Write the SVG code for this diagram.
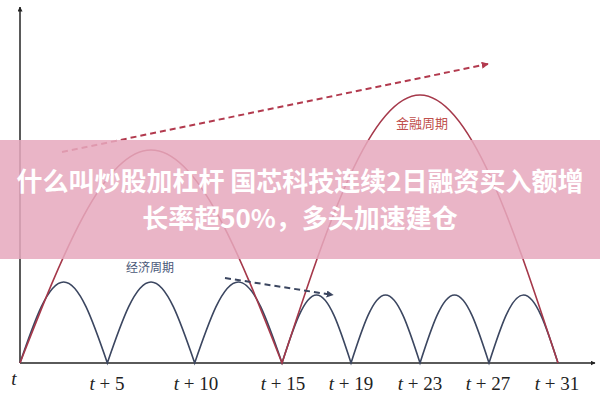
<svg xmlns="http://www.w3.org/2000/svg" width="600" height="400" viewBox="0 0 600 400">
<defs>
<style>
.axis{stroke:#5a5a5a;stroke-width:2;fill:none}
.blue{stroke:#3b4660;stroke-width:1.6;fill:none}
.red{stroke:#a5384a;stroke-width:1.6;fill:none}
.lbl{font-family:"Liberation Serif","DejaVu Serif",serif;font-size:19px;fill:#222;text-anchor:middle}
.lbl tspan.v{font-style:italic}
.ttl{font-family:"Noto Sans CJK SC","Noto Sans",sans-serif;font-weight:bold;font-size:26px;fill:#ffffff;text-anchor:middle}
</style>
<marker id="ahAxis" viewBox="0 0 10 10" refX="9" refY="5" markerWidth="5" markerHeight="5" orient="auto" markerUnits="userSpaceOnUse"><path d="M0,0 L10,5 L0,10 z" fill="#222"/></marker>
<marker id="ahRed" viewBox="0 0 10 10" refX="9" refY="5" markerWidth="7" markerHeight="7" orient="auto" markerUnits="userSpaceOnUse"><path d="M0,0 L10,5 L0,10 z" fill="#b23a4e"/></marker>
<marker id="ahBlue" viewBox="0 0 10 10" refX="9" refY="5" markerWidth="7" markerHeight="7" orient="auto" markerUnits="userSpaceOnUse"><path d="M0,0 L10,5 L0,10 z" fill="#3b4660"/></marker>
</defs>
<rect width="600" height="400" fill="#ffffff"/>
<g id="axes">
<line class="axis" x1="20" y1="363" x2="20" y2="7" marker-end="url(#ahAxis)"/>
<line class="axis" x1="20" y1="363" x2="595" y2="363" marker-end="url(#ahAxis)"/>
</g>
<g id="economic-cycle">
<path class="blue" d="M20,363 c14.24,-41.5 27.87,-81 43.67,-81 c15.8,0 29.43,39.5 43.67,81 c14.24,-41.5 27.87,-81 43.67,-81 c15.8,0 29.43,39.5 43.67,81 c14.24,-41.5 27.87,-81 43.67,-81 c15.8,0 29.43,39.5 43.67,81 c11.25,-34.84 22.01,-68 34.5,-68 c12.49,0 23.25,33.16 34.5,68 c11.25,-34.84 22.01,-68 34.5,-68 c12.49,0 23.25,33.16 34.5,68 c11.25,-34.84 22.01,-68 34.5,-68 c12.49,0 23.25,33.16 34.5,68 c11.25,-34.84 22.01,-68 34.5,-68 c12.49,0 23.25,33.16 34.5,68"/>
</g>
<g id="financial-cycle">
<path class="red" d="M20,363 c42.72,-109.12 83.59,-213 131,-213 c47.41,0 88.28,103.88 131,213 c45,-137.3 88.06,-268 138,-268 c49.94,0 93,130.7 138,268"/>
</g>
<g id="connectors">
<line x1="62" y1="152" x2="488" y2="64" stroke="#b23a4e" stroke-width="2" stroke-dasharray="6,4" marker-end="url(#ahRed)"/>
<line x1="225" y1="278" x2="333" y2="295" stroke="#3b4660" stroke-width="2" stroke-dasharray="6,4" marker-end="url(#ahBlue)"/>
</g>
<g id="cycle-labels">
<text x="422" y="128" font-family="Noto Sans CJK SC, sans-serif" font-size="13" fill="#c0504d" text-anchor="middle">金融周期</text>
<text x="150" y="272" font-family="Noto Sans CJK SC, sans-serif" font-size="12" fill="#4a5878" text-anchor="middle">经济周期</text>
</g>
<g id="axis-labels">
<text class="lbl" x="14" y="385"><tspan class="v">t</tspan></text>
<text class="lbl" x="107" y="390"><tspan class="v">t</tspan> + 5</text>
<text class="lbl" x="196" y="390"><tspan class="v">t</tspan> + 10</text>
<text class="lbl" x="283" y="390"><tspan class="v">t</tspan> + 15</text>
<text class="lbl" x="351" y="390"><tspan class="v">t</tspan> + 19</text>
<text class="lbl" x="420" y="390"><tspan class="v">t</tspan> + 23</text>
<text class="lbl" x="488" y="390"><tspan class="v">t</tspan> + 27</text>
<text class="lbl" x="557" y="390"><tspan class="v">t</tspan> + 31</text>
</g>
<g id="banner">
<rect x="0" y="140" width="600" height="119" fill="#e6a9be" fill-opacity="0.86"/>
<text class="ttl" x="300" y="191">什么叫炒股加杠杆 国芯科技连续2日融资买入额增</text>
<text class="ttl" x="300" y="228">长率超50%，多头加速建仓</text>
</g>
</svg>
